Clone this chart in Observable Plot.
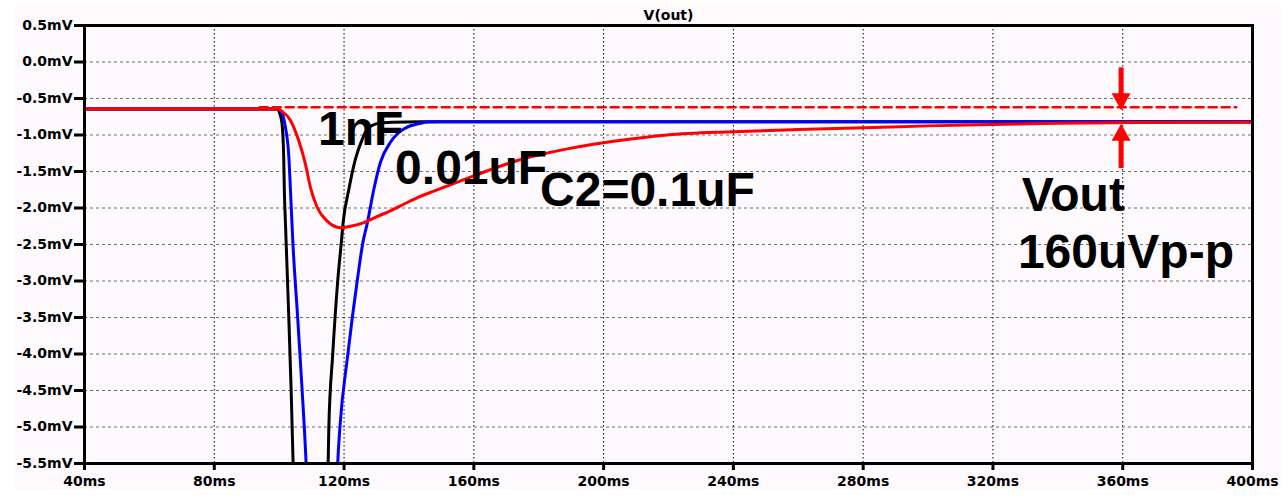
<!DOCTYPE html>
<html><head><meta charset="utf-8">
<script src="https://cdn.jsdelivr.net/npm/d3@7"></script>
<script src="https://cdn.jsdelivr.net/npm/@observablehq/plot@0.6"></script>
<style>
html,body{margin:0;padding:0;background:#fff;overflow:hidden;}
#chart svg{display:block;background:linear-gradient(#fdf9fd,#fdf9fd) 15px 5px/1266px 485px no-repeat,#ffffff !important;}
</style></head><body><div id="chart"></div>
<script>
// ---- axes ----
const xTicks = [40, 80, 120, 160, 200, 240, 280, 320, 360, 400];
const yTicks = [0.5, 0, -0.5, -1, -1.5, -2, -2.5, -3, -3.5, -4, -4.5, -5, -5.5];

// ---- series: C2 = 1nF (black) ----
const t1nF = [40, 99.2, 99.8, 100.3, 100.9, 101.4, 101.6, 101.95, 102.97, 103.7, 104.3, 105.0, 109.7, 114.6, 115.1, 115.3, 116.5, 118.05, 119.2, 119.66, 121.5, 123.5, 125.6, 127.1, 128.8, 131.2, 134.9, 143.6, 400];
const v1nF = [-0.645, -0.645, -0.66, -0.72, -0.85, -1.31, -1.77, -2.22, -3.5, -4.51, -5.5, -6.4, -9.0, -6.2, -5.5, -5.02, -4.01, -3.0, -2.45, -2.22, -1.74, -1.33, -1.06, -0.92, -0.866, -0.836, -0.825, -0.818, -0.818];

// ---- series: C2 = 0.01uF (blue) ----
const t10nF = [40, 99.3, 100.4, 101.95, 103.0, 103.5, 104.2, 105.7, 107.1, 108.3, 109.2, 113.5, 117.6, 118.05, 118.7, 121.15, 124.05, 125.9, 127.1, 129.2, 131.2, 134.3, 136.35, 138.4, 140.5, 142.5, 145.6, 149.7, 400];
const v10nF = [-0.645, -0.645, -0.67, -0.90, -1.31, -1.77, -2.45, -3.5, -4.51, -5.5, -6.6, -9.0, -6.1, -5.5, -5.02, -4.01, -3.0, -2.45, -2.22, -1.74, -1.377, -1.10, -0.987, -0.918, -0.873, -0.85, -0.822, -0.818, -0.818];

// ---- series: C2 = 0.1uF (red) ----
const t100nF = [40, 99.5, 101, 103.5, 106.05, 108.1, 109.65, 111.7, 114.8, 118.9, 122, 126.1, 130, 134.3, 137.4, 142.5, 147.7, 160, 173.4, 188.8, 204.2, 219.6, 240, 260, 280, 300, 320, 340, 363, 400];
const v100nF = [-0.645, -0.645, -0.68, -0.80, -1.08, -1.40, -1.72, -1.99, -2.18, -2.27, -2.25, -2.20, -2.12, -2.04, -1.97, -1.86, -1.77, -1.56, -1.35, -1.19, -1.08, -1.00, -0.955, -0.925, -0.90, -0.875, -0.855, -0.84, -0.83, -0.825];

// ---- reference (initial level) dashed line ----
const refT = [94, 395];
const refV = [-0.62, -0.62];

// ---- arrows (Vout p-p marker) ----
const arrowT = [359.5, 359.5];
const arrowTip = [-0.66, -0.845];
const arrowTail = [-0.08, -1.46];
const arrowDir = ["down", "up"];

// ---- annotations ----
const labelText = ["1nF", "0.01uF", "C2=0.1uF", "Vout", "160uVp-p"];
const labelT = [111.97, 135.74, 180.4, 328.9, 327.7];
const labelV = [-1.134, -1.669, -1.972, -2.036, -2.827];

const titleText = "V(out)";

// ---- build tables ----
const toRows = (ts, vs) => ts.map((t, i) => ({t, v: vs[i]}));
const black = toRows(t1nF, v1nF);
const blue = toRows(t10nF, v10nF);
const red = toRows(t100nF, v100nF);
const ref = toRows(refT, refV);
const arrows = arrowT.map((t, i) => ({
  t, tip: arrowTip[i], tail: arrowTail[i], dir: arrowDir[i],
  base: arrowTip[i] + (arrowDir[i] === "down" ? 0.2 : -0.2)
}));
const labels = labelText.map((s, i) => ({s, t: labelT[i], v: labelV[i]}));

const downHead = {draw(ctx) { ctx.moveTo(0, 0); ctx.lineTo(-9.5, -17); ctx.lineTo(9.5, -17); ctx.closePath(); }};
const upHead = {draw(ctx) { ctx.moveTo(0, 0); ctx.lineTo(-9.5, 17); ctx.lineTo(9.5, 17); ctx.closePath(); }};

const tickFont = "'DejaVu Sans', Verdana, sans-serif";
const bigFont = "'Liberation Sans', Arial, Helvetica, sans-serif";

const chart = Plot.plot({
  width: 1288,
  height: 498,
  marginLeft: 84,
  marginRight: 36,
  marginTop: 25,
  marginBottom: 35,
  style: {fontFamily: tickFont, fontSize: "14px", fontWeight: "bold", color: "black", overflow: "visible"},
  x: {domain: [40, 400], label: null},
  y: {domain: [-5.5, 0.5], label: null},
  marks: [
    Plot.gridY(yTicks, {stroke: "#6e6e6e", strokeOpacity: 1, strokeWidth: 1, strokeDasharray: "3,3"}),
    Plot.gridX(xTicks, {stroke: "#000", strokeOpacity: 1, strokeWidth: 1, strokeDasharray: "1.5,2.5"}),
    Plot.line(black, {x: "t", y: "v", stroke: "#000000", strokeWidth: 3, curve: "monotone-x", clip: true}),
    Plot.line(blue, {x: "t", y: "v", stroke: "#0000ff", strokeWidth: 3, curve: "monotone-x", clip: true}),
    Plot.line(red, {x: "t", y: "v", stroke: "#ff0000", strokeWidth: 3, curve: "monotone-x", clip: true}),
    Plot.line(ref, {x: "t", y: "v", stroke: "#ff0000", strokeWidth: 2.5, strokeDasharray: "8,5"}),
    Plot.ruleX(arrows, {x: "t", y1: "tail", y2: "base", stroke: "#ff0000", strokeWidth: 5}),
    Plot.dot(arrows.filter(d => d.dir === "down"), {x: "t", y: "tip", r: 1, symbol: downHead, fill: "#ff0000", stroke: "none"}),
    Plot.dot(arrows.filter(d => d.dir === "up"), {x: "t", y: "tip", r: 1, symbol: upHead, fill: "#ff0000", stroke: "none"}),
    Plot.text(labels, {x: "t", y: "v", text: "s", textAnchor: "start", lineAnchor: "bottom", fontFamily: bigFont, fontSize: 48, fontWeight: "bold", fill: "#000"}),
    Plot.frame({stroke: "#000", strokeWidth: 3}),
    Plot.axisX({ticks: xTicks, tickFormat: d => d + "ms", tickSize: 7, tickPadding: 6, strokeWidth: 3, stroke: "#000", fontFamily: tickFont, fontSize: 14, fontWeight: "bold", label: null}),
    Plot.axisY({ticks: yTicks, tickFormat: d => d.toFixed(1) + "mV", tickSize: 10, tickPadding: 2, strokeWidth: 3, stroke: "#000", fontFamily: tickFont, fontSize: 14, fontWeight: "bold", label: null}),
    Plot.text([titleText], {frameAnchor: "top", dy: -10, lineAnchor: "middle", fontFamily: tickFont, fontSize: 14, fontWeight: "bold", fill: "#000"})
  ]
});
document.getElementById("chart").appendChild(chart);
</script></body></html>
